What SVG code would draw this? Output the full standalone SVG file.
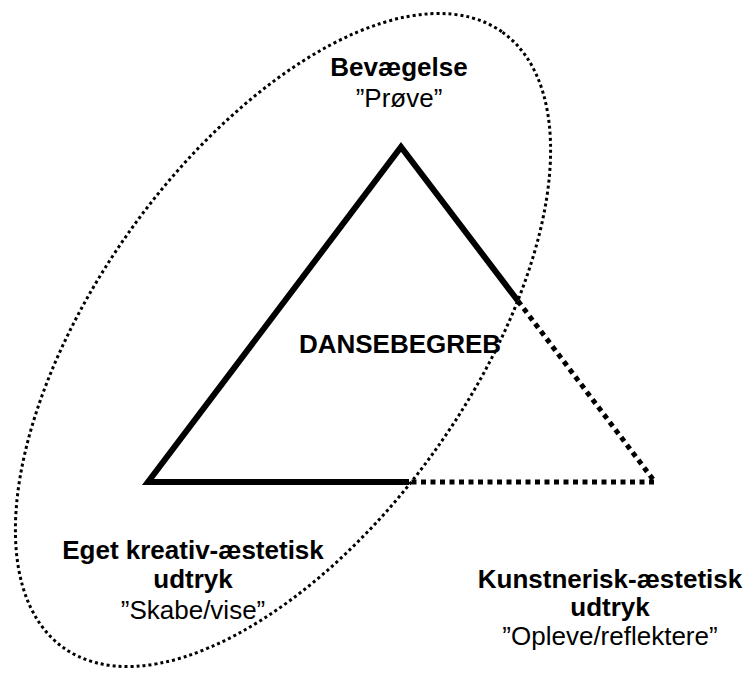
<svg xmlns="http://www.w3.org/2000/svg" width="747" height="673" viewBox="0 0 747 673">
<style>
.t{font-family:"Liberation Sans",Arial,sans-serif;font-size:26px;fill:#000;text-anchor:middle}
.b{font-weight:bold}
.solid{fill:none;stroke:#000;stroke-width:6;stroke-linejoin:miter}
.dot{fill:none;stroke:#000;stroke-width:5;stroke-dasharray:5 4.5}
.ell{fill:none;stroke:#000;stroke-width:3;stroke-dasharray:3 3}
</style>
<rect width="747" height="673" fill="#fff"/>
<g id="connectors">
<ellipse class="ell" cx="283" cy="340" rx="378" ry="188" transform="rotate(-54.5 283 340)"/>
<polyline class="solid" points="409,482 148,482 401,147 518,301"/>
<polyline class="dot" points="518,301 655,482 409,482"/>
</g>
<g id="node-bevaegelse">
<text class="t b" x="399" y="76">Bevægelse</text>
<text class="t" x="399" y="107">”Prøve”</text>
</g>
<g id="node-dansebegreb">
<text class="t b" x="400" y="353">DANSEBEGREB</text>
</g>
<g id="node-eget">
<text class="t b" x="193" y="559">Eget kreativ-æstetisk</text>
<text class="t b" x="193" y="588">udtryk</text>
<text class="t" x="193" y="619">”Skabe/vise”</text>
</g>
<g id="node-kunstnerisk">
<text class="t b" x="610" y="588">Kunstnerisk-æstetisk</text>
<text class="t b" x="610" y="616">udtryk</text>
<text class="t" x="610" y="645">”Opleve/reflektere”</text>
</g>
</svg>
